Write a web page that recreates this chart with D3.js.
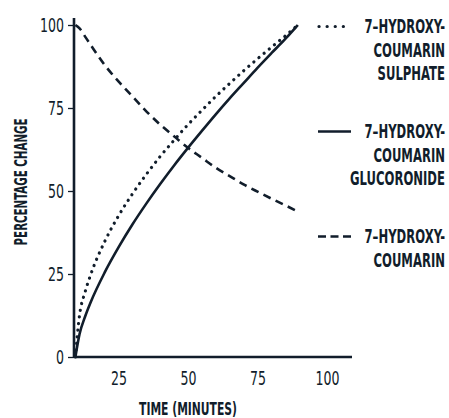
<!DOCTYPE html>
<html><head><meta charset="utf-8">
<script src="https://cdn.jsdelivr.net/npm/d3@7"></script>
<style>
body{margin:0;background:#fff;}
text{font-family:"DejaVu Sans Condensed","Liberation Sans Narrow",sans-serif;fill:#111d2b;}
</style></head><body>
<svg id="c" width="449" height="418"></svg>
<script>
const minutes = [9.5, 11, 13, 15, 20, 25, 30, 35, 40, 45, 50, 55, 60, 65, 70, 75, 80, 85, 89.5];
const sulphate = [0, 12.6, 19.6, 24.8, 34.7, 42.5, 49.1, 55, 60.4, 65.3, 70, 74.3, 78.5, 82.4, 86.2, 89.8, 93.3, 96.7, 100];
const glucoronide = [0, 6.9, 12.2, 16.5, 25.4, 33, 39.9, 46.2, 52.1, 57.7, 63, 68.1, 73.1, 77.9, 82.5, 87.1, 91.5, 95.8, 100];
const coumarin = [100, 99, 96.5, 94, 88, 83, 78.5, 74, 70, 66.5, 63, 60, 57, 54.5, 52, 49.8, 47.7, 45.7, 43.8];
const xTicks = [25, 50, 75, 100];
const yTicks = [0, 25, 50, 75, 100];
const seriesNames = [["7–HYDROXY-","COUMARIN","SULPHATE"],["7–HYDROXY-","COUMARIN","GLUCORONIDE"],["7–HYDROXY-","COUMARIN"]];
const xTitle = "TIME (MINUTES)";
const yTitle = "PERCENTAGE CHANGE";

const ink = "#111d2b";
const svg = d3.select("#c");
const x = d3.scaleLinear().domain([9, 109]).range([74, 352]);
const y = d3.scaleLinear().domain([0, 100]).range([357, 25]);

function widthOf(str, size, weight){
  const t = svg.append("text").attr("font-size",size).attr("font-weight",weight).text(str);
  const w = t.node().getComputedTextLength(); t.remove(); return w;
}

// axes
const yAxis = svg.append("g").attr("transform","translate(74,0)")
  .call(d3.axisLeft(y).tickValues(yTicks).tickSize(6).tickPadding(0).tickFormat(d3.format("d")));
yAxis.select(".domain").attr("d","M0,18V357").attr("stroke",ink).attr("stroke-width",2.6);
yAxis.selectAll(".tick line").attr("stroke",ink).attr("stroke-width",1.3);
const kTick = 24 / widthOf("100", 19, "normal");
yAxis.selectAll(".tick text").attr("x",0).attr("dy","0.36em").attr("font-size",19).attr("fill",ink)
  .attr("transform",`translate(-10,0) scale(${kTick},1)`);

const xAxis = svg.append("g").attr("transform","translate(0,357)")
  .call(d3.axisBottom(x).tickValues(xTicks).tickSize(0).tickPadding(0).tickFormat(d3.format("d")));
xAxis.select(".domain").attr("d","M74,0H352").attr("stroke",ink).attr("stroke-width",2.6);
xAxis.selectAll(".tick text").attr("y",0).attr("dy","0").attr("font-size",19).attr("fill",ink)
  .attr("transform",`translate(0,28) scale(${kTick},1)`);

svg.selectAll(".tick text")
  .style("font-family",'"DejaVu Sans Condensed","Liberation Sans Narrow",sans-serif')
  .style("font-weight","normal");

// titles
svg.append("text").attr("text-anchor","middle")
  .attr("transform",`translate(188,415) scale(${98/widthOf(xTitle,17,"bold")},1)`)
  .attr("font-size",17).attr("font-weight","bold").text(xTitle);
svg.append("text").attr("text-anchor","middle")
  .attr("transform",`translate(27,182) rotate(-90) scale(${127/widthOf(yTitle,17,"bold")},1)`)
  .attr("font-size",17).attr("font-weight","bold").text(yTitle);

// lines
const line = d3.line().x(d=>x(d[0])).y(d=>y(d[1])).curve(d3.curveMonotoneX);
const styles = [
  {data:sulphate, dash:"0.1,6.6", cap:"round", w:3.2},
  {data:glucoronide, dash:null, cap:"butt", w:2.6},
  {data:coumarin, dash:"8,5.5", cap:"butt", w:2.6}
];
styles.forEach(s=>{
  svg.append("path").datum(minutes.map((m,i)=>[m,s.data[i]]))
    .attr("d",line).attr("fill","none").attr("stroke",ink)
    .attr("stroke-width",s.w).attr("stroke-linecap",s.cap)
    .attr("stroke-dasharray",s.dash);
});

// legend
const legY = [26.5, 131.5, 236.5];
const legDash = ["0.1,8","none","8,4.5"];
const kLeg = 95 / widthOf("GLUCORONIDE", 19, "bold");
seriesNames.forEach((names,i)=>{
  const g = svg.append("g").attr("transform",`translate(0,${legY[i]})`);
  g.append("line").attr("x1",i===0?319:318).attr("x2",351).attr("y1",0).attr("y2",0)
    .attr("stroke",ink).attr("stroke-width",i===0?3.2:2.6)
    .attr("stroke-linecap",i===0?"round":"butt")
    .attr("stroke-dasharray",legDash[i]);
  names.forEach((t,j)=>{
    g.append("text").attr("transform",`translate(445,${j*23.5}) scale(${kLeg},1)`)
      .attr("dy","0.36em").attr("text-anchor","end")
      .attr("font-size",19).attr("font-weight","bold").text(t);
  });
});
</script></body></html>
